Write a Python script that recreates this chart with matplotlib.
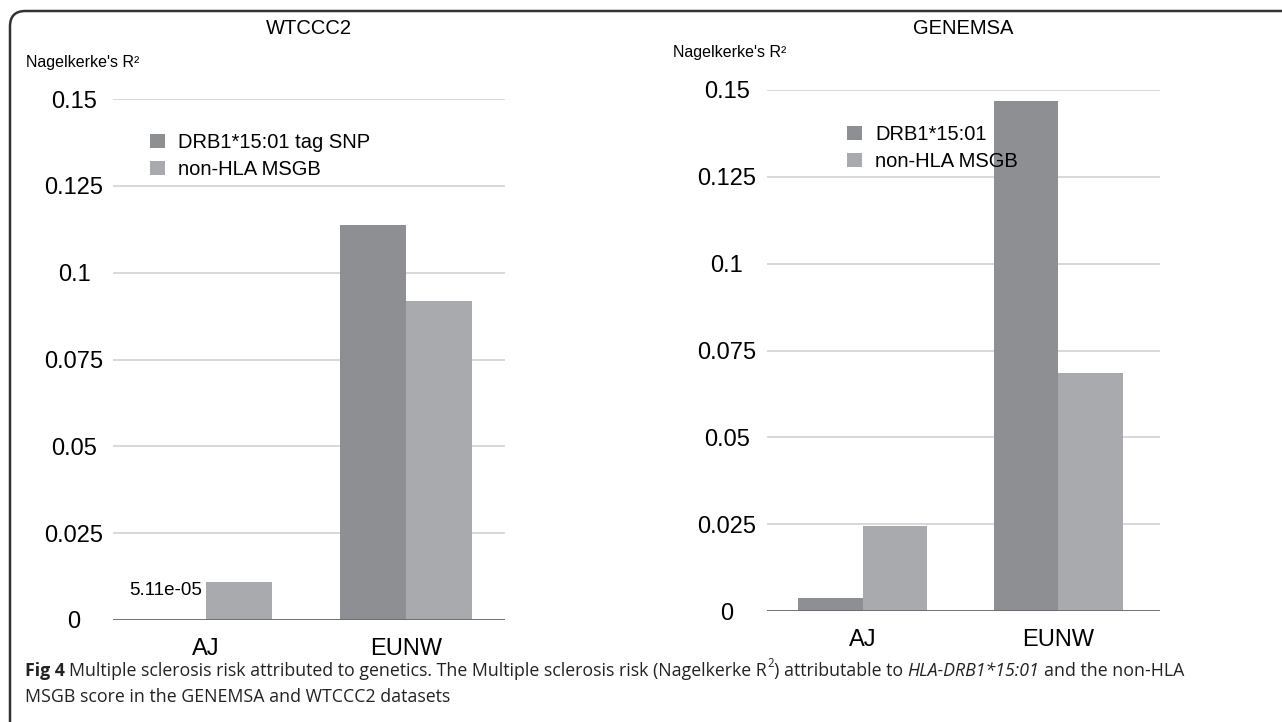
import matplotlib
matplotlib.use("Agg")
import matplotlib.pyplot as plt
from matplotlib.patches import FancyBboxPatch
import numpy as np

plt.rcParams['font.family'] = ['Liberation Sans', 'DejaVu Sans']

# data
groups = ['AJ', 'EUNW']
wtccc2_drb1 = [5.11e-05, 0.1137]
wtccc2_msgb = [0.0109, 0.0919]
genemsa_drb1 = [0.0037, 0.1468]
genemsa_msgb = [0.0245, 0.0685]
yticks = [0, 0.025, 0.05, 0.075, 0.1, 0.125, 0.15]
ytick_labels = ['0', '0.025', '0.05', '0.075', '0.1', '0.125', '0.15']

DARK = '#8d8f93'
LIGHT = '#a9aaae'
W, H = 1282, 722

fig = plt.figure(figsize=(W / 100, H / 100), dpi=100)


def px_axes(x0, x1, ytop, ybot):
    return fig.add_axes([x0 / W, 1 - ybot / H, (x1 - x0) / W, (ybot - ytop) / H])


def draw_panel(ax, drb1, msgb, legend_labels, label_pad, xlim):
    x = np.arange(len(groups))
    bw = 0.33
    ax.bar(x - bw / 2, drb1, bw, color=DARK, label=legend_labels[0], zorder=3)
    ax.bar(x + bw / 2, msgb, bw, color=LIGHT, label=legend_labels[1], zorder=3)
    ax.set_xlim(*xlim)
    ax.set_ylim(0, 0.15)
    ax.set_yticks(yticks)
    ax.set_yticklabels(ytick_labels, fontsize=17, ha='center')
    ax.set_xticks(x)
    ax.set_xticklabels(groups, fontsize=17)
    ax.tick_params(axis='y', length=0, pad=label_pad)
    ax.tick_params(axis='x', length=0, pad=13)
    for s in ax.spines.values():
        s.set_visible(False)
    ax.yaxis.grid(True, color='#d6d6d6', lw=1.3, zorder=0)
    ax.axhline(0, color='#6b6b6b', lw=2, zorder=4)


ax1 = px_axes(113, 505, 99, 620)
draw_panel(ax1, wtccc2_drb1, wtccc2_msgb,
           ['DRB1*15:01 tag SNP', 'non-HLA MSGB'], 28, (-0.465, 1.495))
ax2 = px_axes(767, 1160, 90, 611)
draw_panel(ax2, genemsa_drb1, genemsa_msgb,
           ['DRB1*15:01', 'non-HLA MSGB'], 29, (-0.49, 1.52))

# titles and axis captions
fig.text(309 / W, 1 - 29 / H, 'WTCCC2', fontsize=14.5, ha='center', va='center')
fig.text(963 / W, 1 - 28 / H, 'GENEMSA', fontsize=14.5, ha='center', va='center')
fig.text(26 / W, 1 - 63 / H, "Nagelkerke's R²", fontsize=11.5, va='center')
fig.text(673 / W, 1 - 52 / H, "Nagelkerke's R²", fontsize=11.5, va='center')

# data label for the tiny bar
ax1.annotate('5.11e-05', (0 - 0.165, wtccc2_drb1[0]), xytext=(-5, 21),
             textcoords='offset points', ha='center', va='center', fontsize=13.5)

for ax, (lx, ly) in [(ax1, (150, 133)), (ax2, (847, 125))]:
    handles, labels = ax.get_legend_handles_labels()
    ax.legend(handles, labels, loc='upper left', bbox_to_anchor=(lx / W, 1 - ly / H),
              bbox_transform=fig.transFigure, frameon=False, fontsize=14.5,
              handlelength=0.75, handleheight=0.75, handletextpad=0.65,
              labelspacing=0.4, borderpad=0, borderaxespad=0)

# frame
frame = FancyBboxPatch((10 / W, -0.2), 1.5, 1 - 11 / H + 0.2,
                       boxstyle='round,pad=0,rounding_size=0.012',
                       transform=fig.transFigure, fill=False, ec='#333333', lw=1.8,
                       mutation_aspect=W / H, clip_on=False)
fig.patches.append(frame)

# caption
cap_font = ['Open Sans', 'DejaVu Sans']
renderer = fig.canvas.get_renderer()

line1 = [
    ('Fig 4', {'weight': 'bold', 'gap': 1}),
    ('Multiple sclerosis risk attributed to genetics. The Multiple sclerosis risk (Nagelkerke R', {}),
    ('2', {'rel': 0.65, 'raise': 0.5}),
    (')', {'gap': 1}),
    ('attributable to', {'gap': 1}),
    ('HLA-DRB1*15:01', {'style': 'italic', 'gap': 1}),
    ('and the non-HLA', {}),
]
line2 = [('MSGB score in the GENEMSA and WTCCC2 datasets', {})]


def write_line(x, y, parts, size):
    texts = []
    for txt, kw in parts:
        fs = size * kw.get('rel', 1)
        yy = y - kw.get('raise', 0) * size * 1.39
        t = fig.text(x / W, 1 - yy / H, txt, fontsize=fs, family=cap_font,
                     weight=kw.get('weight', 'normal'), style=kw.get('style', 'normal'),
                     va='baseline', color='#222222')
        texts.append(t)
        bb = t.get_window_extent(renderer)
        x = bb.x1 + kw.get('gap', 0) * size * 0.36
    return x, texts


# fit the first caption line to the width used in the figure
end, texts = write_line(25, 676, line1, 14)
for t in texts:
    t.remove()
cap_size = 14 * (1190 - 25) / (end - 25)
write_line(25, 676, line1, cap_size)
write_line(25, 702, line2, cap_size)

fig.savefig('out.png', dpi=100)
